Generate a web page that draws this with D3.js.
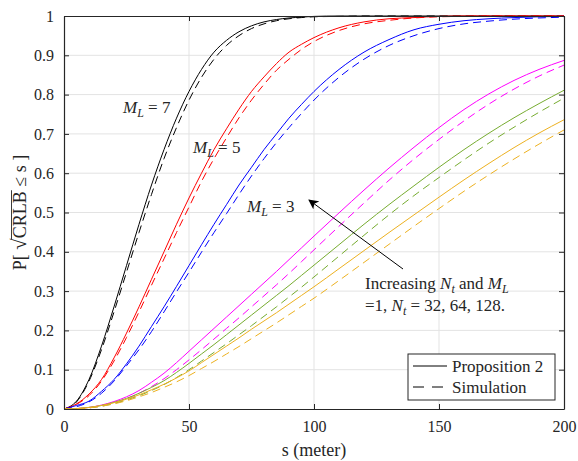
<!DOCTYPE html>
<html><head><meta charset="utf-8">
<script src="https://cdn.jsdelivr.net/npm/d3@7"></script>
<style>body{margin:0;background:#fff} svg{display:block} text{white-space:pre}</style>
</head><body><svg id="c" width="578" height="461"></svg>
<script>
// shared s grid (meter)
const S = [0,5,10,15,20,25,30,35,40,45,50,55,60,65,70,75,80,85,90,95,100,110,120,130,140,150,160,170,180,190,200];
// M_L = 7
const ml7Prop = [0,0.02,0.075,0.16,0.26,0.365,0.47,0.57,0.66,0.74,0.808,0.864,0.908,0.938,0.96,0.975,0.985,0.991,0.995,0.997,0.999,1,1,1,1,1,1,1,1,1,1];
const ml7Sim  = [0,0.018,0.071,0.151,0.247,0.348,0.449,0.546,0.637,0.716,0.786,0.844,0.89,0.925,0.95,0.968,0.98,0.988,0.993,0.996,0.998,0.999,1,1,1,1,1,1,1,1,1];
// M_L = 5
const ml5Prop = [0,0.013,0.038,0.075,0.13,0.193,0.26,0.33,0.4,0.47,0.537,0.6,0.66,0.713,0.763,0.808,0.845,0.879,0.908,0.928,0.945,0.97,0.985,0.993,0.996,0.999,1,1,1,1,1];
const ml5Sim  = [0,0.012,0.034,0.071,0.122,0.182,0.247,0.315,0.382,0.449,0.514,0.579,0.637,0.69,0.741,0.786,0.826,0.862,0.89,0.915,0.935,0.963,0.98,0.989,0.995,0.998,0.999,1,1,1,1];
// M_L = 3
const ml3Prop = [0,0.009,0.02,0.045,0.075,0.115,0.16,0.21,0.26,0.312,0.365,0.418,0.47,0.52,0.57,0.615,0.66,0.70,0.74,0.775,0.808,0.864,0.908,0.94,0.965,0.979,0.988,0.993,0.996,0.998,0.999];
const ml3Sim  = [0,0.006,0.018,0.04,0.071,0.11,0.151,0.197,0.247,0.298,0.348,0.399,0.449,0.497,0.546,0.593,0.637,0.678,0.716,0.752,0.786,0.844,0.89,0.925,0.95,0.968,0.98,0.987,0.992,0.995,0.997];
// M_L = 1, N_t = 128
const nt128Prop = [0,0.001,0.004,0.01,0.019,0.031,0.047,0.068,0.091,0.118,0.147,0.176,0.205,0.234,0.263,0.292,0.321,0.35,0.38,0.41,0.44,0.499,0.557,0.613,0.666,0.716,0.762,0.802,0.836,0.864,0.887];
const nt128Sim  = [0,0.001,0.003,0.008,0.016,0.026,0.04,0.057,0.077,0.1,0.125,0.151,0.178,0.205,0.232,0.26,0.288,0.316,0.345,0.375,0.405,0.465,0.524,0.582,0.636,0.686,0.733,0.776,0.814,0.847,0.875];
// M_L = 1, N_t = 64
const nt64Prop = [0,0.001,0.004,0.009,0.017,0.027,0.04,0.055,0.072,0.093,0.116,0.14,0.164,0.189,0.214,0.239,0.264,0.289,0.314,0.34,0.366,0.418,0.47,0.52,0.568,0.615,0.66,0.702,0.741,0.777,0.811];
const nt64Sim  = [0,0.001,0.003,0.007,0.014,0.023,0.034,0.047,0.062,0.08,0.1,0.122,0.144,0.166,0.189,0.212,0.236,0.26,0.285,0.31,0.336,0.389,0.442,0.494,0.543,0.589,0.634,0.677,0.717,0.755,0.791];
// M_L = 1, N_t = 32
const nt32Prop = [0,0.001,0.004,0.009,0.016,0.025,0.036,0.049,0.063,0.079,0.097,0.118,0.139,0.16,0.181,0.203,0.224,0.245,0.267,0.289,0.311,0.357,0.403,0.449,0.494,0.539,0.583,0.625,0.665,0.702,0.736];
const nt32Sim  = [0,0.001,0.003,0.007,0.013,0.021,0.031,0.042,0.055,0.069,0.085,0.103,0.121,0.14,0.159,0.179,0.199,0.219,0.24,0.261,0.282,0.327,0.373,0.419,0.465,0.51,0.554,0.596,0.636,0.674,0.71];

const xTicks = [0,50,100,150,200];
const yTicks = [0,0.1,0.2,0.3,0.4,0.5,0.6,0.7,0.8,0.9,1];
const xTickLabels = ["0","50","100","150","200"];
const yTickLabels = ["0","0.1","0.2","0.3","0.4","0.5","0.6","0.7","0.8","0.9","1"];
const legendLabels = ["Proposition 2","Simulation"];

const series = [
  {v: ml7Prop, c:"#000000", d:false}, {v: ml7Sim, c:"#000000", d:true},
  {v: ml5Prop, c:"#ff0000", d:false}, {v: ml5Sim, c:"#ff0000", d:true},
  {v: ml3Prop, c:"#0000ff", d:false}, {v: ml3Sim, c:"#0000ff", d:true},
  {v: nt128Prop, c:"#ff00ff", d:false}, {v: nt128Sim, c:"#ff00ff", d:true},
  {v: nt64Prop, c:"#77ac30", d:false}, {v: nt64Sim, c:"#77ac30", d:true},
  {v: nt32Prop, c:"#edb120", d:false}, {v: nt32Sim, c:"#edb120", d:true}
];

const L = 64, R = 564, T = 16, B = 409;
const FONT = "'Liberation Serif','Times New Roman','DejaVu Serif',serif";
const svg = d3.select("#c");
const x = d3.scaleLinear().domain([0,200]).range([L,R]);
const y = d3.scaleLinear().domain([0,1]).range([B,T]);
const axisCol = "#262626";

// grid
const g = svg.append("g");
g.selectAll(".gx").data(xTicks.slice(1,-1)).enter().append("line")
  .attr("x1",d=>x(d)).attr("x2",d=>x(d)).attr("y1",T).attr("y2",B)
  .attr("stroke","#e3e3e3").attr("stroke-width",1);
g.selectAll(".gy").data(yTicks.slice(1,-1)).enter().append("line")
  .attr("x1",L).attr("x2",R).attr("y1",d=>y(d)).attr("y2",d=>y(d))
  .attr("stroke","#e3e3e3").attr("stroke-width",1);

// curves
svg.append("clipPath").attr("id","clip").append("rect")
  .attr("x",L).attr("y",T-1).attr("width",R-L).attr("height",B-T+1);
const line = d3.line().x((d,i)=>x(S[i])).y(d=>y(d)).curve(d3.curveMonotoneX);
const cg = svg.append("g").attr("clip-path","url(#clip)");
series.forEach(s=>{
  cg.append("path").attr("d",line(s.v)).attr("fill","none")
    .attr("stroke",s.c).attr("stroke-width",1)
    .attr("stroke-dasharray", s.d ? "8,5" : null);
});

// axes box and ticks
const axB = svg.append("g").attr("transform",`translate(0,${B})`)
  .call(d3.axisBottom(x).tickValues(xTicks).tickFormat((d,i)=>xTickLabels[i]).tickSizeInner(-5).tickSizeOuter(0).tickPadding(12));
const axT = svg.append("g").attr("transform",`translate(0,${T})`)
  .call(d3.axisTop(x).tickValues(xTicks).tickFormat("").tickSizeInner(-5).tickSizeOuter(0));
const axL = svg.append("g").attr("transform",`translate(${L},0)`)
  .call(d3.axisLeft(y).tickValues(yTicks).tickFormat((d,i)=>yTickLabels[i]).tickSizeInner(-5).tickSizeOuter(0).tickPadding(10));
const axR = svg.append("g").attr("transform",`translate(${R},0)`)
  .call(d3.axisRight(y).tickValues(yTicks).tickFormat("").tickSizeInner(-5).tickSizeOuter(0));
[axB,axT,axL,axR].forEach(a=>{
  a.select(".domain").attr("stroke",axisCol).attr("stroke-width",1.2);
  a.selectAll(".tick line").attr("stroke",axisCol).attr("stroke-width",1);
  a.selectAll("text").attr("font-family",FONT).attr("font-size",16).attr("fill","#262626");
});

// x label
svg.append("text").attr("x",(L+R)/2).attr("y",456).attr("text-anchor","middle")
  .attr("font-family",FONT).attr("font-size",18).attr("fill","#262626").text("s (meter)");

// y label: P[ sqrt(CRLB) <= s ]
const yl = svg.append("g").attr("transform",`translate(26,${(T+B)/2}) rotate(-90)`);
const fsY = 18;
const parts = [
  {t:"P[\u00A0", over:false}, {t:"√", over:false, sq:true}, {t:"CRLB", over:true}, {t:"\u00A0≤\u00A0s\u00A0]", over:false}
];
let cx = 0; const placed = [];
parts.forEach(p=>{
  const t = yl.append("text").attr("x",cx).attr("y",0).attr("font-family",FONT)
    .attr("font-size",fsY).attr("fill","#262626").text(p.t);
  if (p.sq) t.attr("font-size",fsY*1.15);
  const w = t.node().getComputedTextLength();
  placed.push({node:t, x:cx, w:w, p:p});
  cx += w;
});
const total = cx;
placed.forEach(o=>o.node.attr("x", o.x - total/2));
const ov = placed.find(o=>o.p.over), sq = placed.find(o=>o.p.sq);
yl.append("line").attr("x1", sq.x - total/2 + sq.w - 1).attr("x2", ov.x - total/2 + ov.w + 1)
  .attr("y1",-14.5).attr("y2",-14.5).attr("stroke","#262626").attr("stroke-width",0.9);

// math label helper
function mathLabel(xp, yp, base, sub, rest, fs) {
  const t = svg.append("text").attr("x",xp).attr("y",yp).attr("font-family",FONT)
    .attr("font-size",fs).attr("fill","#262626");
  t.append("tspan").attr("font-style","italic").text(base);
  t.append("tspan").attr("font-style","italic").attr("font-size",fs*0.7).attr("dy",4).text(sub);
  t.append("tspan").attr("dy",-4).text(rest);
  return t;
}
mathLabel(123, 113, "M", "L", " = 7", 17);
mathLabel(193, 153, "M", "L", " = 5", 17);
mathLabel(247, 212, "M", "L", " = 3", 17);

// annotation with arrow
svg.append("defs").append("marker").attr("id","ah").attr("viewBox","0 0 10 10")
  .attr("refX",9).attr("refY",5).attr("markerWidth",10).attr("markerHeight",10)
  .attr("markerUnits","userSpaceOnUse").attr("orient","auto")
  .append("path").attr("d","M0,0 L10,5 L0,10 L2.5,5 Z").attr("fill","#000");
svg.append("line").attr("x1",403).attr("y1",269).attr("x2",309).attr("y2",200)
  .attr("stroke","#000").attr("stroke-width",1).attr("marker-end","url(#ah)");
const a1 = svg.append("text").attr("x",365).attr("y",289).attr("font-family",FONT)
  .attr("font-size",17).attr("fill","#262626");
a1.append("tspan").text("Increasing ");
a1.append("tspan").attr("font-style","italic").text("N");
a1.append("tspan").attr("font-style","italic").attr("font-size",12).attr("dy",4).text("t");
a1.append("tspan").attr("dy",-4).text(" and ");
a1.append("tspan").attr("font-style","italic").text("M");
a1.append("tspan").attr("font-style","italic").attr("font-size",12).attr("dy",4).text("L");
const a2 = svg.append("text").attr("x",365).attr("y",311).attr("font-family",FONT)
  .attr("font-size",17).attr("fill","#262626");
a2.append("tspan").text("=1, ");
a2.append("tspan").attr("font-style","italic").text("N");
a2.append("tspan").attr("font-style","italic").attr("font-size",12).attr("dy",4).text("t");
a2.append("tspan").attr("dy",-4).text(" = 32, 64, 128.");

// legend
const lg = svg.append("g");
lg.append("rect").attr("x",408).attr("y",354).attr("width",147).attr("height",46)
  .attr("fill","#fff").attr("stroke","#262626").attr("stroke-width",1);
legendLabels.forEach((lab,i)=>{
  const yy = 366 + i*21;
  lg.append("line").attr("x1",413).attr("x2",i ? 443 : 447).attr("y1",yy).attr("y2",yy)
    .attr("stroke","#000").attr("stroke-width",1).attr("stroke-dasharray", i ? "11,8" : null);
  lg.append("text").attr("x",452).attr("y",yy+6).attr("font-family",FONT)
    .attr("font-size",17).attr("fill","#262626").text(lab);
});
</script></body></html>
